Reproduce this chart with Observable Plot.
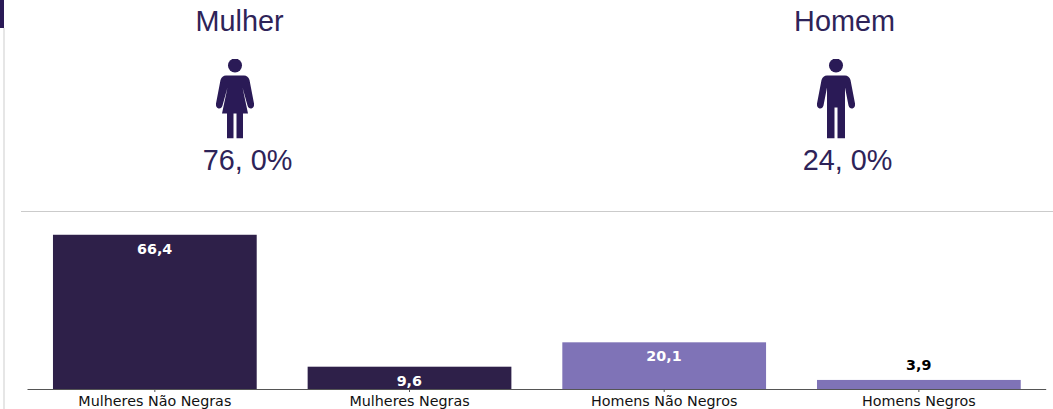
<!DOCTYPE html>
<html lang="pt">
<head>
<meta charset="utf-8">
<script src="https://cdn.jsdelivr.net/npm/d3@7"></script>
<script src="https://cdn.jsdelivr.net/npm/@observablehq/plot@0.6"></script>
<style>
html,body{margin:0;padding:0;background:#fff;width:1053px;height:409px;overflow:hidden}
#wrap{position:relative;width:1053px;height:409px}
#header,#chart{position:absolute;left:0}
#header{top:0}
#chart{top:212px}
#header svg,#chart svg{display:block;background:transparent}
.strip{position:absolute;left:3px;top:28px;width:2px;height:381px;background:#e6e6e6}
.block{position:absolute;left:0;top:0;width:4px;height:28px;background:#2a1a56}
.sep{position:absolute;left:21px;right:0;top:211px;height:1px;background:#cbcbcb}
</style>
</head>
<body>
<div id="wrap">
<div class="strip"></div><div class="block"></div><div class="sep"></div>
<div id="header"></div>
<div id="chart"></div>
</div>
<script>
const categories = ["Mulheres Não Negras", "Mulheres Negras", "Homens Não Negros", "Homens Negros"];
const values = [66.4, 9.6, 20.1, 3.9];
const groups = ["Mulher", "Mulher", "Homem", "Homem"];
const sexes = ["Mulher", "Homem"];
const shares = [76.0, 24.0];

const fmtDec = d3.format(".1f");
const comma = v => fmtDec(v).replace(".", ",");
const shareLabel = v => fmtDec(v).replace(".", ", ") + "%";

const bars = categories.map((c, i) => ({category: c, value: values[i], group: groups[i]}));
const heads = sexes.map((s, i) => ({sex: s, share: shares[i]}));

const ink = "#2e2358";
const iconInk = "#2a1a56";
const sansH = "'Liberation Sans', Arial, sans-serif";
const sansD = "'DejaVu Sans', sans-serif";

const iconSvg = body => "data:image/svg+xml;utf8," + encodeURIComponent(
  `<svg xmlns="http://www.w3.org/2000/svg" viewBox="0 0 40 80" width="160" height="320"><g fill="${iconInk}">${body}</g></svg>`);
const womanIcon = iconSvg(`<circle cx="20" cy="7" r="7"/><path d="M11 17 H29 Q33 17 34.5 21.500 L39 45 Q39.500 49 36.500 50 Q33.500 50.500 32.500 47 L27.500 29 L33 55 H28 V80 H21.500 V55 H18.500 V80 H12 V55 H7 L12.500 29 L7.500 47 Q6.500 50.500 3.500 50 Q0.500 49 1 45 L5.500 21.500 Q7 17 11 17 Z"/>`);
const manIcon = iconSvg(`<circle cx="20" cy="7" r="7"/><path d="M11 17 H29 Q33 17 34.500 21.500 L39 45 Q39.500 49 36.500 50 Q33.500 50.500 32.500 47 L29 29 V80 H21.500 V49 H18.500 V80 H11 V29 L7.500 47 Q6.500 50.500 3.500 50 Q0.500 49 1 45 L5.500 21.500 Q7 17 11 17 Z"/>`);

const one = s => heads.filter(d => d.sex === s);
const headerMarks = [
  Plot.text(one("Mulher"), {x: "sex", text: "sex", frameAnchor: "top", lineAnchor: "middle", dy: 21, dx: -1, fontSize: 28.800, fontFamily: sansH, fill: ink}),
  Plot.text(one("Homem"), {x: "sex", text: "sex", frameAnchor: "top", lineAnchor: "middle", dy: 21, fontSize: 28.800, fontFamily: sansH, fill: ink}),
  Plot.image(one("Mulher"), {x: "sex", src: () => womanIcon, width: 40, height: 80, frameAnchor: "top", dy: 98, dx: -5.500}),
  Plot.image(one("Homem"), {x: "sex", src: () => manIcon, width: 40, height: 80, frameAnchor: "top", dy: 98, dx: -8.500}),
  Plot.text(one("Mulher"), {x: "sex", text: d => shareLabel(d.share), frameAnchor: "top", lineAnchor: "middle", dy: 160, dx: 7, fontSize: 28.800, fontFamily: sansH, fill: ink}),
  Plot.text(one("Homem"), {x: "sex", text: d => shareLabel(d.share), frameAnchor: "top", lineAnchor: "middle", dy: 160, dx: 3, fontSize: 28.800, fontFamily: sansH, fill: ink})
];
document.getElementById("header").append(Plot.plot({
  width: 1053, height: 212, margin: 0,
  x: {type: "point", domain: sexes, range: [239.500, 843.500], padding: 0, axis: null},
  marks: headerMarks
}));

const inside = bars.filter(d => d.value > 5);
const outside = bars.filter(d => d.value <= 5);
document.getElementById("chart").append(Plot.plot({
  width: 1053, height: 197,
  marginLeft: 27.500, marginRight: 6.800, marginTop: 0, marginBottom: 20,
  style: {background: "transparent", overflow: "visible"},
  x: {domain: categories, paddingInner: 0.2, paddingOuter: 0.1, round: false, label: null},
  y: {domain: [0, 76.2], range: [177, 0], axis: null},
  color: {domain: ["Mulher", "Homem"], range: ["#2e2049", "#7f73b7"]},
  marks: [
    Plot.barY(bars, {x: "category", y: "value", fill: "group"}),
    Plot.ruleY([0], {stroke: "#555", strokeWidth: 1}),
    Plot.axisX({domain: categories, tickSize: 3, tickPadding: 3, fontSize: 14.300, fontFamily: sansD, fill: "#111", stroke: "#555", label: null, tickFormat: d => d, dx: -0.500}),
    Plot.text(inside, {x: "category", y: "value", text: d => comma(d.value), dy: 14, dx: -0.700, fill: "#fff", fontWeight: "bold", fontSize: 14.300, fontFamily: sansD}),
    Plot.text(outside, {x: "category", y: "value", text: d => comma(d.value), dy: -15, dx: -0.700, fill: "#000", fontWeight: "bold", fontSize: 14.300, fontFamily: sansD})
  ]
}));
</script>
</body>
</html>
